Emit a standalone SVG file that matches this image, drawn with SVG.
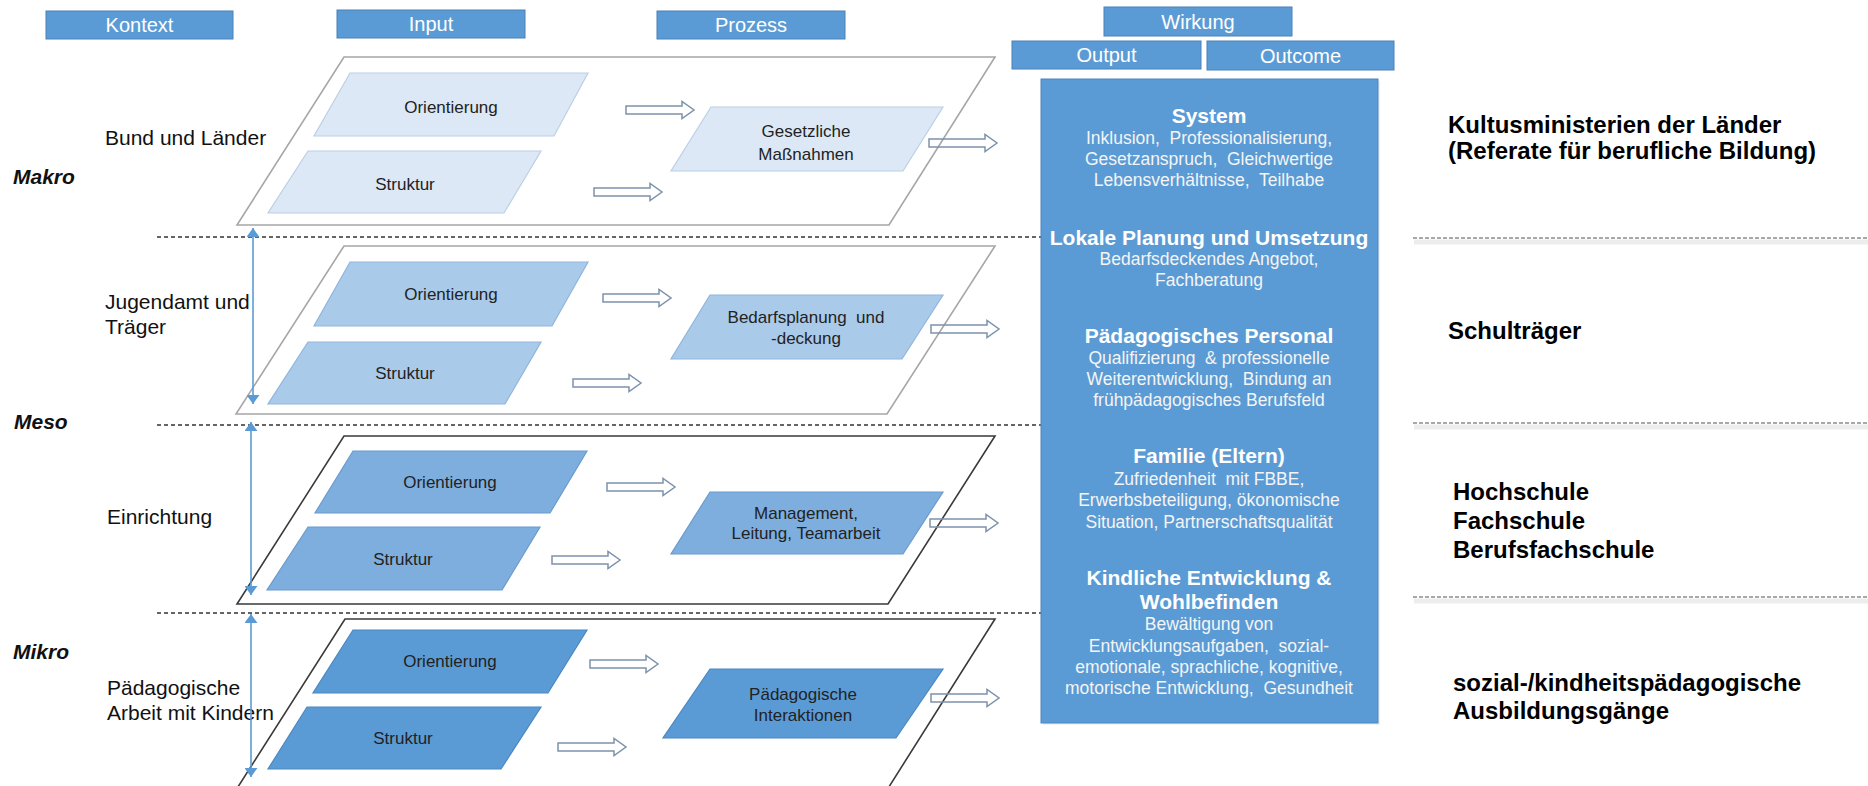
<svg xmlns="http://www.w3.org/2000/svg" width="1868" height="786" viewBox="0 0 1868 786">
<defs>
<style>
text{font-family:"Liberation Sans",Arial,sans-serif}
.hdr{fill:#5B9BD5;stroke:#4A80B8;stroke-width:1}
.hdrt{fill:#fff;font-size:20px;text-anchor:middle}
.lvl{fill:#fff;stroke-width:1.6}
.lvlL{stroke:#A6A6A6}
.lvlD{stroke:#3A3A3A}
.p1{fill:#DCE8F5;stroke:#BCCFE6;stroke-width:1.2}
.p2{fill:#AACAEA;stroke:#8FB5DD;stroke-width:1.2}
.p3{fill:#7DAEDE;stroke:#6A9BCD;stroke-width:1.2}
.p4{fill:#5B9BD5;stroke:#4A88C2;stroke-width:1.2}
.pt{fill:#222;font-size:17px;text-anchor:middle}
.lab{fill:#111;font-size:21px}
.lev{fill:#111;font-size:21px;font-weight:bold;font-style:italic}
.rt{fill:#000;font-size:24px;font-weight:bold}
.bh{fill:#fff;font-size:21px;font-weight:bold;text-anchor:middle}
.bt{fill:#F4F4F4;font-size:17.5px;text-anchor:middle}
.blk{fill:none;stroke:#7D93AB;stroke-width:1.5}
.dot{stroke:#333;stroke-width:1.5;stroke-dasharray:4 3}
.rdash{stroke:#8C8C8C;stroke-width:1.3;stroke-dasharray:4 2}
.rsh{stroke:#000;stroke-opacity:0.07;stroke-width:5}
.va{stroke:#5B9BD5;stroke-width:1.6;marker-start:url(#tri);marker-end:url(#tri)}
</style>
<marker id="tri" viewBox="0 0 9 13" refX="9" refY="6.5" markerWidth="9" markerHeight="13" markerUnits="userSpaceOnUse" orient="auto-start-reverse">
<path d="M0,0 L9,6.5 L0,13 Z" fill="#5B9BD5"/>
</marker>
<path id="blkArrow" d="M0,-4 H56 V-8.5 L68,0 L56,8.5 V4 H0 Z"/>
</defs>
<rect x="0" y="0" width="1868" height="786" fill="#fff"/>

<!-- column headers -->
<g id="hdr-kontext"><rect class="hdr" x="46" y="11" width="187" height="28"/><text class="hdrt" x="139.5" y="32">Kontext</text></g>
<g id="hdr-input"><rect class="hdr" x="337" y="10" width="188" height="28"/><text class="hdrt" x="431" y="31">Input</text></g>
<g id="hdr-prozess"><rect class="hdr" x="657" y="11" width="188" height="28"/><text class="hdrt" x="751" y="32">Prozess</text></g>
<g id="hdr-wirkung"><rect class="hdr" x="1104" y="7" width="188" height="29"/><text class="hdrt" x="1198" y="28.5">Wirkung</text></g>
<g id="hdr-output"><rect class="hdr" x="1012" y="41" width="189" height="28"/><text class="hdrt" x="1106.5" y="62">Output</text></g>
<g id="hdr-outcome"><rect class="hdr" x="1207" y="41" width="187" height="29"/><text class="hdrt" x="1300.5" y="62.5">Outcome</text></g>

<!-- separators -->
<g id="separators">
<line class="dot" x1="157" y1="237" x2="1041" y2="237"/>
<line class="dot" x1="157" y1="425" x2="1041" y2="425"/>
<line class="dot" x1="157" y1="613" x2="1041" y2="613"/>
<line class="rsh" x1="1414" y1="242" x2="1868" y2="242"/>
<line class="rsh" x1="1414" y1="427" x2="1868" y2="427"/>
<line class="rsh" x1="1414" y1="601" x2="1868" y2="601"/>
<line class="rdash" x1="1413" y1="238" x2="1868" y2="238"/>
<line class="rdash" x1="1413" y1="423" x2="1868" y2="423"/>
<line class="rdash" x1="1413" y1="597" x2="1868" y2="597"/>
</g>

<!-- level labels -->
<g id="levels">
<text class="lev" x="13" y="184">Makro</text>
<text class="lev" x="14" y="429">Meso</text>
<text class="lev" x="13" y="659">Mikro</text>
</g>

<!-- layer 1 -->
<g id="layer-bund">
<polygon class="lvl lvlL" points="344,57 995,57 889,225 237,225"/>
<text class="lab" x="105" y="145">Bund und Länder</text>
</g>
<g id="bund-orientierung"><polygon class="p1" points="350,73 588,73 554,136 314,136"/><text class="pt" x="451" y="113">Orientierung</text></g>
<g id="bund-struktur"><polygon class="p1" points="308,151 541,151 504,213 268,213"/><text class="pt" x="405" y="190">Struktur</text></g>
<g id="bund-prozess"><polygon class="p1" points="711,107 943,107 903,171 671,171"/><text class="pt" x="806" y="137">Gesetzliche</text><text class="pt" x="806" y="160">Maßnahmen</text></g>

<!-- layer 2 -->
<g id="layer-jugendamt">
<polygon class="lvl lvlL" points="344,246 995,246 887,414 236,414"/>
<text class="lab" x="105" y="309">Jugendamt und</text>
<text class="lab" x="105" y="334">Träger</text>
</g>
<g id="jugend-orientierung"><polygon class="p2" points="350,262 588,262 552,326 314,326"/><text class="pt" x="451" y="300">Orientierung</text></g>
<g id="jugend-struktur"><polygon class="p2" points="308,342 541,342 505,404 268,404"/><text class="pt" x="405" y="379">Struktur</text></g>
<g id="jugend-prozess"><polygon class="p2" points="710,295 943,295 902,359 671,359"/><text class="pt" x="806" y="323" xml:space="preserve">Bedarfsplanung  und</text><text class="pt" x="806" y="344">-deckung</text></g>

<!-- layer 3 -->
<g id="layer-einrichtung">
<polygon class="lvl lvlD" points="344,436 995,436 888,604 237,604"/>
<text class="lab" x="107" y="524">Einrichtung</text>
</g>
<g id="einr-orientierung"><polygon class="p3" points="353,451 587,451 550,513 315,513"/><text class="pt" x="450" y="488">Orientierung</text></g>
<g id="einr-struktur"><polygon class="p3" points="308,527 540,527 502,590 267,590"/><text class="pt" x="403" y="565">Struktur</text></g>
<g id="einr-prozess"><polygon class="p3" points="710,492 943,492 903,554 671,554"/><text class="pt" x="806" y="519">Management,</text><text class="pt" x="806" y="539">Leitung, Teamarbeit</text></g>

<!-- layer 4 -->
<g id="layer-paed">
<polygon class="lvl lvlD" points="345,619 995,619 887,790 236,790"/>
<text class="lab" x="107" y="695">Pädagogische</text>
<text class="lab" x="107" y="720">Arbeit mit Kindern</text>
</g>
<g id="paed-orientierung"><polygon class="p4" points="353,630 587,630 548,693 313,693"/><text class="pt" x="450" y="667">Orientierung</text></g>
<g id="paed-struktur"><polygon class="p4" points="307,707 541,707 501,769 268,769"/><text class="pt" x="403" y="744">Struktur</text></g>
<g id="paed-prozess"><polygon class="p4" points="710,669 943,669 896,738 663,738"/><text class="pt" x="803" y="700">Pädagogische</text><text class="pt" x="803" y="721">Interaktionen</text></g>

<!-- connectors -->
<g id="connectors">
<use href="#blkArrow" class="blk" x="626" y="110"/>
<use href="#blkArrow" class="blk" x="594" y="192"/>
<use href="#blkArrow" class="blk" x="929" y="143"/>
<use href="#blkArrow" class="blk" x="603" y="298"/>
<use href="#blkArrow" class="blk" x="573" y="383"/>
<use href="#blkArrow" class="blk" x="931" y="329"/>
<use href="#blkArrow" class="blk" x="607" y="487"/>
<use href="#blkArrow" class="blk" x="552" y="560"/>
<use href="#blkArrow" class="blk" x="930" y="523"/>
<use href="#blkArrow" class="blk" x="590" y="664"/>
<use href="#blkArrow" class="blk" x="558" y="747"/>
<use href="#blkArrow" class="blk" x="931" y="698"/>
<line class="va" x1="253" y1="228" x2="253" y2="404"/>
<line class="va" x1="251" y1="422" x2="251" y2="595"/>
<line class="va" x1="251" y1="614" x2="251" y2="777"/>
</g>

<!-- Wirkung box -->
<g id="wirkung-box">
<rect x="1043" y="81" width="337" height="644" fill="#000" fill-opacity="0.05"/>
<rect x="1041" y="79" width="337" height="644" fill="#5B9BD5" stroke="#4A86C0" stroke-width="1"/>
<text class="bh" x="1209" y="122.5">System</text>
<text class="bt" x="1209" y="144" xml:space="preserve">Inklusion,  Professionalisierung,</text>
<text class="bt" x="1209" y="165" xml:space="preserve">Gesetzanspruch,  Gleichwertige</text>
<text class="bt" x="1209" y="186" xml:space="preserve">Lebensverhältnisse,  Teilhabe</text>
<text class="bh" x="1209" y="244.5">Lokale Planung und Umsetzung</text>
<text class="bt" x="1209" y="265">Bedarfsdeckendes Angebot,</text>
<text class="bt" x="1209" y="286">Fachberatung</text>
<text class="bh" x="1209" y="342.5">Pädagogisches Personal</text>
<text class="bt" x="1209" y="364" xml:space="preserve">Qualifizierung  &amp; professionelle</text>
<text class="bt" x="1209" y="385" xml:space="preserve">Weiterentwicklung,  Bindung an</text>
<text class="bt" x="1209" y="406">frühpädagogisches Berufsfeld</text>
<text class="bh" x="1209" y="462.5">Familie (Eltern)</text>
<text class="bt" x="1209" y="485" xml:space="preserve">Zufriedenheit  mit FBBE,</text>
<text class="bt" x="1209" y="506">Erwerbsbeteiligung, ökonomische</text>
<text class="bt" x="1209" y="528">Situation, Partnerschaftsqualität</text>
<text class="bh" x="1209" y="584.5">Kindliche Entwicklung &amp;</text>
<text class="bh" x="1209" y="608.5">Wohlbefinden</text>
<text class="bt" x="1209" y="630">Bewältigung von</text>
<text class="bt" x="1209" y="652" xml:space="preserve">Entwicklungsaufgaben,  sozial-</text>
<text class="bt" x="1209" y="673">emotionale, sprachliche, kognitive,</text>
<text class="bt" x="1209" y="694" xml:space="preserve">motorische Entwicklung,  Gesundheit</text>
</g>

<!-- right column -->
<g id="right-kultus"><text class="rt" x="1448" y="133">Kultusministerien der Länder</text><text class="rt" x="1448" y="159">(Referate für berufliche Bildung)</text></g>
<g id="right-schultraeger"><text class="rt" x="1448" y="339">Schulträger</text></g>
<g id="right-schulen"><text class="rt" x="1453" y="500">Hochschule</text><text class="rt" x="1453" y="529">Fachschule</text><text class="rt" x="1453" y="558">Berufsfachschule</text></g>
<g id="right-ausbildung"><text class="rt" x="1453" y="691">sozial-/kindheitspädagogische</text><text class="rt" x="1453" y="719">Ausbildungsgänge</text></g>
</svg>
